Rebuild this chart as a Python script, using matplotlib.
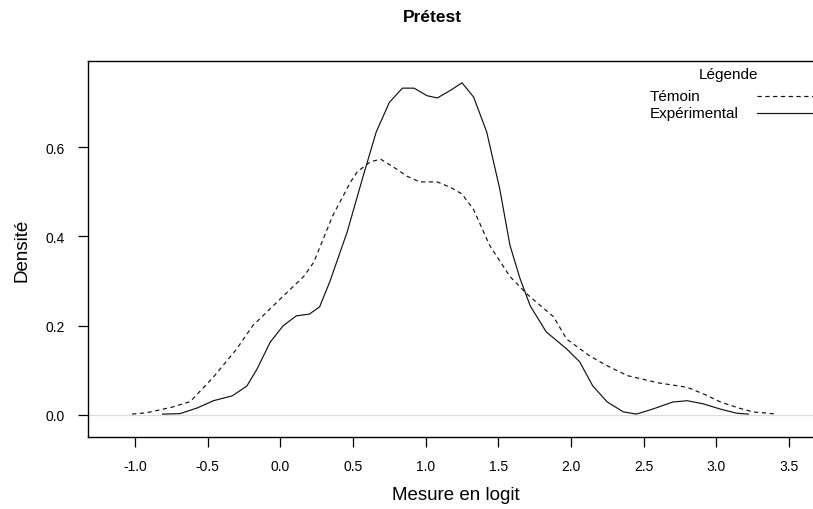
import matplotlib
matplotlib.use("Agg")
import matplotlib.pyplot as plt
from matplotlib.lines import Line2D

plt.rcParams['font.family'] = ['Liberation Sans', 'DejaVu Sans']

# Density curves
temoin_x = [-1.02, -0.92, -0.74, -0.62, -0.46, -0.30, -0.19, 0.0, 0.16, 0.23,
            0.36, 0.48, 0.53, 0.62, 0.69, 0.78, 0.87, 0.96, 1.08, 1.17,
            1.25, 1.33, 1.44, 1.58, 1.70, 1.88, 1.97, 2.13, 2.25, 2.39,
            2.60, 2.80, 2.92, 3.03, 3.15, 3.25, 3.42]
temoin_y = [0.002, 0.005, 0.018, 0.03, 0.085, 0.148, 0.20, 0.26, 0.31, 0.342,
            0.446, 0.52, 0.545, 0.567, 0.573, 0.555, 0.535, 0.522, 0.522, 0.51,
            0.495, 0.46, 0.38, 0.31, 0.27, 0.22, 0.17, 0.132, 0.11, 0.088,
            0.072, 0.062, 0.046, 0.029, 0.016, 0.007, 0.002]

exp_x = [-0.81, -0.69, -0.57, -0.46, -0.33, -0.23, -0.16, -0.07, 0.02, 0.11,
         0.20, 0.27, 0.34, 0.46, 0.57, 0.66, 0.75, 0.84, 0.92, 1.01,
         1.08, 1.17, 1.25, 1.33, 1.42, 1.51, 1.58, 1.65, 1.72, 1.83,
         1.97, 2.06, 2.15, 2.25, 2.36, 2.45, 2.56, 2.70, 2.80, 2.91,
         3.03, 3.14, 3.22]
exp_y = [0.002, 0.003, 0.016, 0.032, 0.043, 0.065, 0.103, 0.163, 0.20, 0.222,
         0.226, 0.242, 0.298, 0.41, 0.535, 0.634, 0.70, 0.732, 0.732, 0.715,
         0.71, 0.727, 0.744, 0.712, 0.634, 0.506, 0.38, 0.305, 0.244, 0.186,
         0.148, 0.119, 0.065, 0.029, 0.007, 0.002, 0.013, 0.029, 0.032, 0.025,
         0.013, 0.004, 0.002]

x_ticks = [-1.0, -0.5, 0.0, 0.5, 1.0, 1.5, 2.0, 2.5, 3.0, 3.5]
y_ticks = [0.0, 0.2, 0.4, 0.6]
series_names = ['Témoin', 'Expérimental']

DASH = (3.6, 3.0)

W, H = 813, 510
fig = plt.figure(figsize=(W / 100, H / 100), dpi=100)
ax = fig.add_axes([88 / W, 72 / H, (824 - 88) / W, 376 / H])

ax.axhline(0, color='#dcdcdc', lw=0.9, zorder=1)
ax.plot(temoin_x, temoin_y, color='#111111', lw=0.85, dashes=DASH)
ax.plot(exp_x, exp_y, color='#111111', lw=0.85)

ax.set_xlim(-1.3234, 3.741)
ax.set_ylim(-0.0493, 0.7928)
ax.set_xticks(x_ticks)
ax.set_xticklabels(['%.1f' % v for v in x_ticks])
ax.set_yticks(y_ticks)
ax.set_yticklabels(['%.1f' % v for v in y_ticks])
ax.tick_params(direction='out', length=7, width=0.9, labelsize=10, pad=9)
ax.tick_params(axis='y', pad=10)
ax.spines['right'].set_visible(False)
for s in ['left', 'top', 'bottom']:
    ax.spines[s].set_linewidth(1.0)

# titles and axis labels
fig.text(432 / W, 1 - 18 / H, 'Prétest', ha='center', va='center',
         fontsize=12.5, fontweight='bold')
fig.text(456 / W, 1 - 496 / H, 'Mesure en logit', ha='center', va='center',
         fontsize=13.5)
fig.text(22 / W, 1 - 250 / H, 'Densité', ha='center', va='center',
         fontsize=13.5, rotation=90)

# legend drawn by hand, as in the original
fig.text(728 / W, 1 - 75 / H, 'Légende', ha='center', va='center', fontsize=11)
styles = [dict(dashes=DASH), dict()]
for i, name in enumerate(series_names):
    yy = 1 - (97 + 17 * i) / H
    fig.text(650 / W, yy, name, ha='left', va='center', fontsize=11)
    fig.add_artist(Line2D([757 / W, 1.0], [yy, yy], color='#111111', lw=0.85,
                          transform=fig.transFigure, **styles[i]))

fig.savefig('out.png', dpi=100)
